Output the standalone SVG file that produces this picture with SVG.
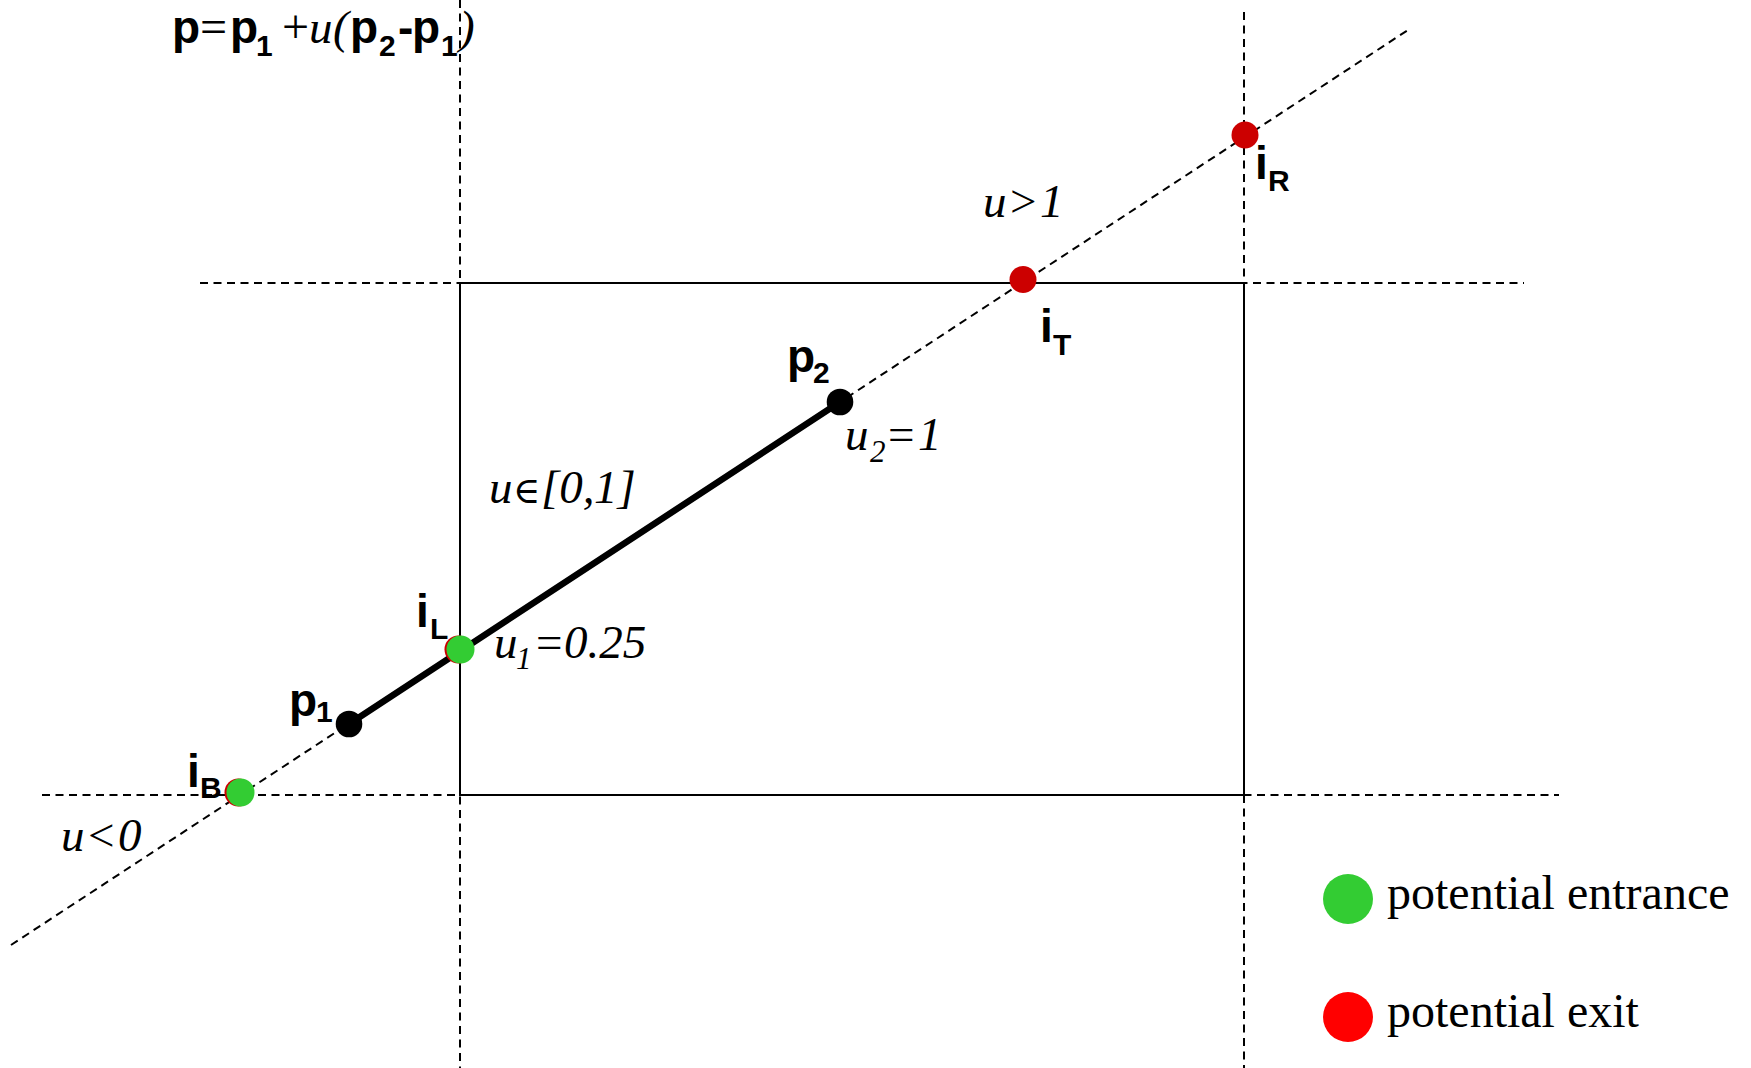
<svg xmlns="http://www.w3.org/2000/svg" width="1751" height="1068" viewBox="0 0 1751 1068">
<style>
.dash{stroke:#000;stroke-width:2;stroke-dasharray:8 5.5;fill:none}
.solid{stroke:#000;stroke-width:2;fill:none}
.seg{stroke:#000;stroke-width:6.5;stroke-linecap:round}
.b{font-family:"Liberation Sans",Arial,sans-serif;font-weight:bold;font-size:46px;fill:#000}
.bs{font-family:"Liberation Sans",Arial,sans-serif;font-weight:bold;font-size:30px;fill:#000}
.it{font-family:"Liberation Serif","Times New Roman",serif;font-style:italic;font-size:47px;fill:#000}
.its{font-family:"Liberation Serif","Times New Roman",serif;font-style:italic;font-size:31px;fill:#000}
.rm{font-family:"Liberation Serif","Times New Roman",serif;font-size:47px;fill:#000}
.op{font-family:"Liberation Serif","Times New Roman",serif;font-size:48px;fill:#000}
.el{font-family:"DejaVu Serif","Liberation Serif",serif;font-size:37px;fill:#000}
.leg{font-family:"Liberation Serif","Times New Roman",serif;font-size:48px;fill:#000}
.g{fill:#33CC33}
.r{fill:#CC0000}
.k{fill:#000}
</style>
<rect width="1751" height="1068" fill="#fff"/>
<g id="connectors">
<line class="dash" x1="460" y1="0" x2="460" y2="1068"/>
<line class="dash" x1="1244" y1="12" x2="1244" y2="1068"/>
<line class="dash" x1="200" y1="283" x2="1524" y2="283"/>
<line class="dash" x1="42" y1="795" x2="1559" y2="795"/>
<line class="dash" x1="11" y1="945" x2="1408" y2="30"/>
<rect class="solid" x="460" y="283" width="784" height="512"/>
<line class="seg" x1="349" y1="724" x2="840" y2="402"/>
</g>
<g id="formula">
<text y="43"><tspan class="b" x="172">p</tspan><tspan class="op" x="200">=</tspan><tspan class="b" x="230">p</tspan><tspan class="bs" x="256" y="56">1</tspan><tspan class="op" x="282" y="43">+</tspan><tspan class="it" x="309">u</tspan><tspan class="it" x="333">(</tspan><tspan class="b" x="350">p</tspan><tspan class="bs" x="379" y="56">2</tspan><tspan class="b" x="398" y="43">-</tspan><tspan class="b" x="412">p</tspan><tspan class="bs" x="441" y="56">1</tspan><tspan class="it" x="459" y="43">)</tspan></text>
</g>
<g id="p1">
<circle class="k" cx="349" cy="724" r="13.3"/>
<text class="b" x="289" y="716">p</text><text class="bs" x="316" y="722">1</text>
</g>
<g id="p2">
<circle class="k" cx="840" cy="402" r="13.3"/>
<text class="b" x="787" y="372">p</text><text class="bs" x="813" y="383">2</text>
</g>
<g id="iL">
<circle class="r" cx="458.5" cy="649.5" r="14"/>
<circle class="g" cx="460.5" cy="649.5" r="14"/>
<text class="b" x="416" y="627">i</text><text class="bs" x="430" y="639">L</text>
</g>
<g id="iB">
<circle class="r" cx="238.5" cy="792.5" r="14"/>
<circle class="g" cx="240.5" cy="792.5" r="14"/>
<text class="b" x="187" y="787">i</text><text class="bs" x="200" y="798">B</text>
</g>
<g id="iT">
<circle class="r" cx="1023" cy="279.5" r="13.5"/>
<text class="b" x="1040" y="342">i</text><text class="bs" x="1053" y="355">T</text>
</g>
<g id="iR">
<circle class="r" cx="1245" cy="135" r="13.5"/>
<text class="b" x="1255" y="179">i</text><text class="bs" x="1268" y="191">R</text>
</g>
<g id="labels">
<text y="217"><tspan class="it" x="983">u</tspan><tspan class="rm" x="1010">&gt;</tspan><tspan class="it" x="1040">1</tspan></text>
<text y="450"><tspan class="it" x="845">u</tspan><tspan class="its" x="870" y="462">2</tspan><tspan class="rm" x="888" y="450">=</tspan><tspan class="it" x="918">1</tspan></text>
<text y="503"><tspan class="it" x="489">u</tspan><tspan class="el" x="513">∈</tspan><tspan class="it" x="541">[0,</tspan><tspan class="it" x="594">1]</tspan></text>
<text y="658"><tspan class="it" x="494">u</tspan><tspan class="its" x="516" y="669">1</tspan><tspan class="rm" x="536" y="658">=</tspan><tspan class="it" x="564">0.25</tspan></text>
<text y="851"><tspan class="it" x="61">u</tspan><tspan class="rm" x="88">&lt;</tspan><tspan class="it" x="118">0</tspan></text>
</g>
<g id="legend">
<circle class="g" cx="1348" cy="899" r="25"/>
<text class="leg" x="1387" y="909">potential entrance</text>
<circle cx="1348" cy="1017" r="25" fill="#FF0000"/>
<text class="leg" x="1387" y="1027">potential exit</text>
</g>
</svg>
